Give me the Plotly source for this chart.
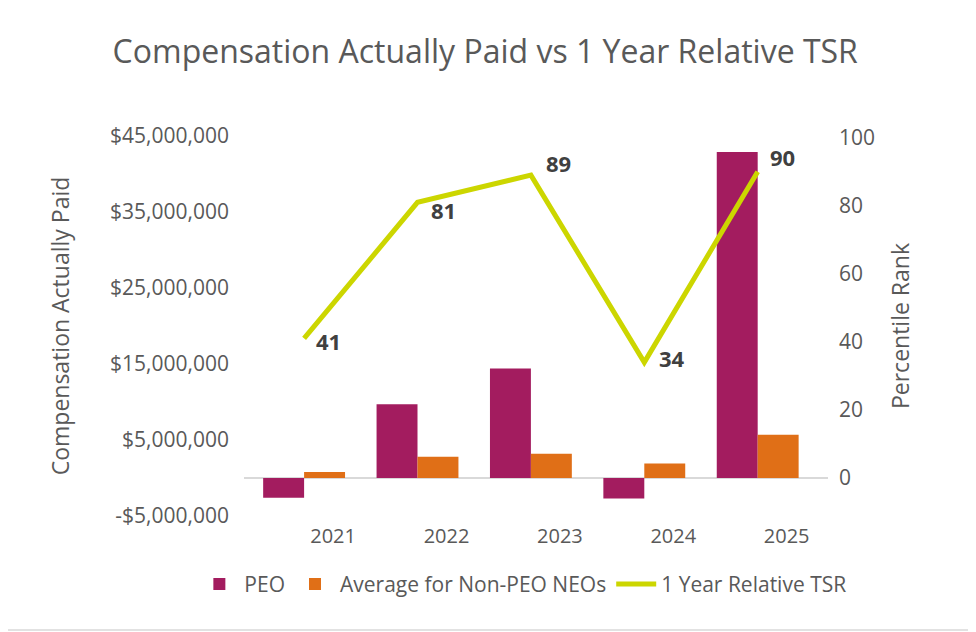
import plotly.graph_objects as go

# data
years = ["2021", "2022", "2023", "2024", "2025"]
peo_cap = [-2600000, 9700000, 14400000, -2700000, 42900000]
neo_avg_cap = [800000, 2800000, 3200000, 1900000, 5700000]
tsr_rank = [41, 81, 89, 34, 90]

left_ticks = [-5000000, 5000000, 15000000, 25000000, 35000000, 45000000]
left_tick_text = ["-$5,000,000", "$5,000,000", "$15,000,000", "$25,000,000",
                  "$35,000,000", "$45,000,000"]
right_ticks = [0, 20, 40, 60, 80, 100]

# label offsets (px) for the TSR data labels
label_shift = [(24, -3), (26, -8), (28, 12), (28, 4), (25, 15)]

FONT = "Open Sans"
GREY = "#595959"
PEO_COLOR = "#A31C5F"
NEO_COLOR = "#E06F17"
TSR_COLOR = "#CCD600"

# the page body adds an 8px margin, so the figure is drawn 8px smaller
W, H = 968, 624


def create_plot():
    fig = go.Figure()

    fig.add_trace(go.Bar(x=years, y=peo_cap, name="PEO",
                         marker=dict(color=PEO_COLOR, line=dict(width=0))))
    fig.add_trace(go.Bar(x=years, y=neo_avg_cap, name="Average for Non-PEO NEOs",
                         marker=dict(color=NEO_COLOR, line=dict(width=0))))
    fig.add_trace(go.Scatter(x=years, y=tsr_rank, name="1 Year Relative TSR",
                             yaxis="y2", mode="lines",
                             line=dict(color=TSR_COLOR, width=5)))

    # data labels; x is the category index since the year names look numeric
    for i, (val, (dx, dy)) in enumerate(zip(tsr_rank, label_shift)):
        fig.add_annotation(x=i, y=val, xref="x", yref="y2",
                           text="<b>%d</b>" % val,
                           showarrow=False, xshift=dx, yshift=dy,
                           font=dict(family=FONT, size=22, color="#404040"))

    fig.update_layout(
        width=W, height=H,
        margin=dict(l=236, r=148, t=128, b=116, autoexpand=False),
        paper_bgcolor="white", plot_bgcolor="white",
        font=dict(family=FONT, color=GREY, size=20),
        title=dict(text="Compensation Actually Paid vs 1 Year Relative TSR",
                   x=0.493, xref="container", xanchor="center",
                   y=1 - 44 / H, yref="container", yanchor="middle",
                   font=dict(family=FONT, size=32, color=GREY)),
        barmode="group", bargap=0.278, bargroupgap=0,
        showlegend=True,
        legend=dict(orientation="h", x=-0.085, xanchor="left",
                    y=-0.18, yanchor="middle",
                    font=dict(family=FONT, size=21, color=GREY),
                    itemwidth=40, traceorder="normal"),
        xaxis=dict(type="category", range=[-0.53, 4.62], showgrid=False,
                   showline=False, ticks="",
                   tickfont=dict(family=FONT, size=20, color=GREY),
                   ticklabelshift=29, ticklabelstandoff=6),
        yaxis=dict(range=[-5000000, 45000000], tickvals=left_ticks, ticktext=left_tick_text,
                   showgrid=False, showline=False, zeroline=True,
                   zerolinecolor="#D9D9D9", zerolinewidth=1.5,
                   tickfont=dict(family=FONT, size=21, color=GREY),
                   ticklabelstandoff=14,
                   title=dict(text="Compensation Actually Paid", standoff=34,
                              font=dict(family=FONT, size=23, color=GREY))),
        yaxis2=dict(range=[-11.17, 100.5], tickvals=right_ticks, overlaying="y", side="right",
                    showgrid=False, showline=False, zeroline=False,
                    tickfont=dict(family=FONT, size=21, color=GREY),
                    ticklabelstandoff=10,
                    title=dict(text="Percentile Rank", standoff=18,
                               font=dict(family=FONT, size=23, color=GREY))),
    )

    # light chart-area border
    fig.add_shape(type="rect", xref="paper", yref="paper",
                  x0=-0.421, x1=1.25, y0=-0.3, y1=1.363,
                  line=dict(color="#D9D9D9", width=1.5), fillcolor="rgba(0,0,0,0)",
                  layer="below")
    return fig


def main():
    fig = create_plot()
    fig.write_html("out.html")


if __name__ == "__main__":
    main()
